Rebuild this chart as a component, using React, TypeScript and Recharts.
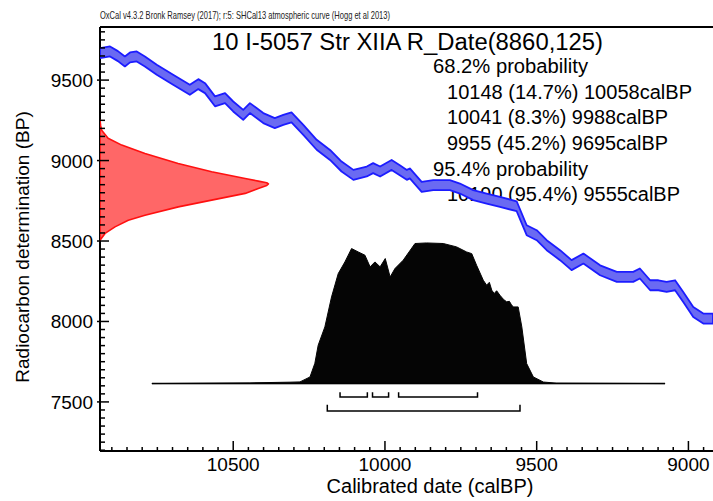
import { ComposedChart, ReferenceLine, Scatter, XAxis, YAxis } from "recharts"

// axis extents (calBP runs right to left)
const X_MIN = 8919
const X_MAX = 10939
const Y_MIN = 7195
const Y_MAX = 9830

const xMajorTicks = [10500, 10000, 9500, 9000]
const yMajorTicks = [7500, 8000, 8500, 9000, 9500]

// SHCal13 curve
const curveCal = [
  10939, 10906, 10880, 10857, 10840, 10818, 10791, 10752, 10698, 10643, 10615, 10593, 10560, 10527, 10500,
  10467, 10445, 10401, 10363, 10335, 10308, 10269, 10225, 10181, 10143, 10104, 10060, 10039, 10016, 9978,
  9951, 9928, 9918, 9879, 9841, 9786, 9753, 9709, 9665, 9621, 9566, 9533, 9500, 9467, 9423,
  9385, 9346, 9291, 9236, 9182, 9160, 9126, 9099, 9072, 9044, 9017, 8984, 8951, 8919,
]
const curveBP = [
  9668, 9678, 9649, 9616, 9641, 9647, 9616, 9564, 9502, 9440, 9475, 9450, 9368, 9388, 9336,
  9284, 9326, 9264, 9233, 9253, 9268, 9191, 9098, 9035, 8963, 8911, 8932, 8953, 8932, 8973,
  8940, 8911, 8920, 8836, 8847, 8847, 8826, 8785, 8764, 8743, 8716, 8567, 8536, 8474, 8412,
  8350, 8391, 8318, 8277, 8277, 8298, 8225, 8225, 8215, 8225, 8152, 8059, 8018, 8018,
]
const curveError = 31

// calibrated distribution (relative probability)
const densityCal = [
  10768, 10445, 10313, 10280, 10247, 10231, 10220, 10198, 10176, 10154, 10132, 10110, 10088, 10066, 10049,
  10033, 10016, 9999, 9983, 9967, 9940, 9901, 9863, 9808, 9764, 9731, 9714, 9698, 9676, 9665,
  9656, 9648, 9640, 9632, 9621, 9610, 9599, 9590, 9583, 9577, 9561, 9549, 9533, 9511, 9478, 9434, 9077,
]
const densityProb = [
  0, 0.005, 0.01, 0.012, 0.047, 0.144, 0.273, 0.403, 0.616, 0.782, 0.865, 0.96, 0.936, 0.913, 0.83,
  0.865, 0.83, 0.889, 0.758, 0.818, 0.877, 0.996, 1, 0.996, 0.972, 0.936, 0.924, 0.841, 0.735, 0.7,
  0.72, 0.664, 0.64, 0.66, 0.628, 0.6, 0.581, 0.585, 0.56, 0.545, 0.545, 0.403, 0.142, 0.047, 0.011, 0.003, 0,
]
const densityBase = 7614
const densityHeight = 874

// radiocarbon date 8860 +/- 125
const dateBP = [9251, 9215, 9189, 9139, 9096, 9044, 8982, 8930, 8889, 8872, 8862, 8855, 8845, 8827, 8796, 8754, 8712, 8660, 8629, 8588, 8547, 8505]
const dateProb = [0, 0.004, 0.01, 0.048, 0.129, 0.267, 0.464, 0.663, 0.862, 0.94, 0.99, 1, 0.99, 0.94, 0.862, 0.663, 0.465, 0.267, 0.168, 0.089, 0.03, 0]
const dateWidth = 555

const ranges68 = [
  [10148, 10058],
  [10041, 9988],
  [9955, 9695],
]
const ranges95 = [[10190, 9555]]

const textLines = [
  { text: "68.2% probability", x: 433, y: 73, len: 155 },
  { text: "10148 (14.7%) 10058calBP", x: 447, y: 99, len: 245 },
  { text: "10041 (8.3%) 9988calBP", x: 447, y: 124, len: 221 },
  { text: "9955 (45.2%) 9695calBP", x: 447, y: 150, len: 221 },
  { text: "95.4% probability", x: 433, y: 176, len: 155 },
  { text: "10190 (95.4%) 9555calBP", x: 447, y: 201, len: 233 },
]

const xTicks: number[] = []
for (let v = 8950; v <= 10900; v += 50) xTicks.push(v)
const yTicks: number[] = []
for (let v = 7200; v <= 9800; v += 50) yTicks.push(v)

const FONT = "'Liberation Sans', Arial, sans-serif"

const band = [
  ...curveCal.map((c, i) => ({ x: c, y: curveBP[i] + curveError })),
  ...curveCal.map((c, i) => ({ x: c, y: curveBP[i] - curveError })).reverse(),
]
const density = densityCal.map((c, i) => ({ x: c, y: densityBase + densityProb[i] * densityHeight }))
const dateDist = dateBP.map((b, i) => ({ x: X_MAX - dateProb[i] * dateWidth, y: b }))
const baseline = [
  { x: densityCal[0], y: densityBase },
  { x: densityCal[densityCal.length - 1], y: densityBase },
]
const bracket = (from: number, to: number, level: number, top: number) => [
  { x: from, y: top },
  { x: from, y: level },
  { x: to, y: level },
  { x: to, y: top },
]

const NoDot = () => <g />

const polygon = (fill: string, stroke: string, width: number) => (props: any) => {
  const pts = props.points as { x: number; y: number }[]
  const d = pts.map((p, i) => `${i ? "L" : "M"}${p.x},${p.y}`).join("") + "Z"
  return <path d={d} fill={fill} stroke={stroke} strokeWidth={width} strokeLinejoin="round" />
}

const XTick = ({ x, y, payload }: any) => {
  const major = xMajorTicks.includes(payload.value)
  return (
    <g>
      <line x1={x} x2={x} y1={y} y2={y - (major ? 10 : 4)} stroke="#000" strokeWidth={1.5} />
      {major && (
        <text x={x} y={y + 20} textAnchor="middle" fontSize={19} fontFamily={FONT} fill="#000">
          {payload.value}
        </text>
      )}
    </g>
  )
}

const YTick = ({ x, y, payload }: any) => {
  const major = yMajorTicks.includes(payload.value)
  return (
    <g>
      <line x1={major ? x - 3 : x} x2={x + (major ? 9 : 5)} y1={y} y2={y} stroke="#000" strokeWidth={1.5} />
      {major && (
        <text x={x - 7} y={y + 7} textAnchor="end" fontSize={19} fontFamily={FONT} fill="#000">
          {payload.value}
        </text>
      )}
    </g>
  )
}

export default function App() {
  return (
    <div style={{ position: "absolute", left: 0, top: 0, background: "#fff" }}>
      <ComposedChart width={713} height={501} margin={{ top: 27, right: 0, bottom: 0, left: 0 }}>
        <Scatter
          data={band}
          dataKey="y"
          fill="#6a6af2"
          shape={NoDot}
          line={polygon("#6a6af2", "#1c1cff", 1.8)}
          isAnimationActive={false}
        />
        <Scatter
          data={density}
          dataKey="y"
          fill="#000"
          shape={NoDot}
          line={polygon("#050505", "#050505", 1)}
          isAnimationActive={false}
        />
        <Scatter
          data={dateDist}
          dataKey="y"
          fill="#ff6666"
          shape={NoDot}
          line={polygon("#ff6767", "#ff1010", 1.6)}
          isAnimationActive={false}
        />
        <Scatter
          data={baseline}
          dataKey="y"
          fill="#000"
          shape={NoDot}
          line={{ stroke: "#000", strokeWidth: 1.5 }}
          isAnimationActive={false}
        />
        {ranges68.map(([a, b], i) => (
          <Scatter
            key={"r68" + i}
            data={bracket(a, b, 7530, 7560)}
            dataKey="y"
            fill="#000"
            shape={NoDot}
            line={{ stroke: "#000", strokeWidth: 1.5 }}
            isAnimationActive={false}
          />
        ))}
        {ranges95.map(([a, b], i) => (
          <Scatter
            key={"r95" + i}
            data={bracket(a, b, 7443, 7483)}
            dataKey="y"
            fill="#000"
            shape={NoDot}
            line={{ stroke: "#000", strokeWidth: 1.5 }}
            isAnimationActive={false}
          />
        ))}
        <ReferenceLine y={Y_MAX} stroke="#000" strokeWidth={2} />
        <XAxis
          type="number"
          dataKey="x"
          reversed
          domain={[X_MIN, X_MAX]}
          allowDataOverflow
          ticks={xTicks}
          interval={0}
          tick={<XTick />}
          tickSize={0}
          tickMargin={0}
          tickLine={false}
          axisLine={{ stroke: "#000", strokeWidth: 2 }}
          height={50}
        />
        <YAxis
          type="number"
          dataKey="y"
          domain={[Y_MIN, Y_MAX]}
          allowDataOverflow
          ticks={yTicks}
          interval={0}
          tick={<YTick />}
          tickSize={0}
          tickMargin={0}
          tickLine={false}
          axisLine={{ stroke: "#000", strokeWidth: 2 }}
          width={100}
        />
        <text x={100} y={19} fontSize={11} fontFamily={FONT} textLength={290} lengthAdjust="spacingAndGlyphs" fill="#222">
          OxCal v4.3.2 Bronk Ramsey (2017); r:5: SHCal13 atmospheric curve (Hogg et al 2013)
        </text>
        <text x={212} y={50} fontSize={23} fontFamily={FONT} textLength={391} lengthAdjust="spacingAndGlyphs" fill="#000">
          10 I-5057 Str XIIA R_Date(8860,125)
        </text>
        {textLines.map((t) => (
          <text
            key={t.text}
            x={t.x}
            y={t.y}
            fontSize={20}
            fontFamily={FONT}
            textLength={t.len}
            lengthAdjust="spacingAndGlyphs"
            fill="#000"
          >
            {t.text}
          </text>
        ))}
        <text x={430} y={493} fontSize={20} fontFamily={FONT} textAnchor="middle" fill="#000">
          Calibrated date (calBP)
        </text>
        <text
          x={0}
          y={0}
          transform="translate(29,247) rotate(-90)"
          fontSize={19}
          fontFamily={FONT}
          textAnchor="middle"
          fill="#000"
        >
          Radiocarbon determination (BP)
        </text>
      </ComposedChart>
    </div>
  )
}
